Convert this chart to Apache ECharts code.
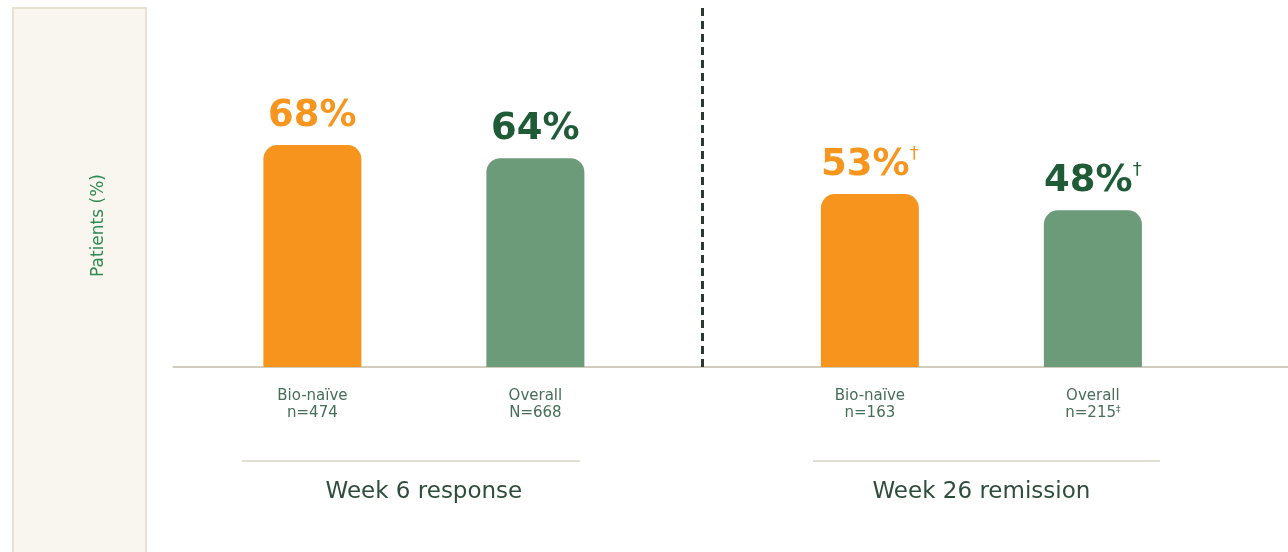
<!DOCTYPE html>
<html>
<head>
<meta charset="utf-8">
<script src="https://cdn.jsdelivr.net/npm/echarts@6/dist/echarts.min.js"></script>
<style>
  html, body { margin: 0; padding: 0; background: #fff; }
  #barchart { width: 1288px; height: 552px; }
</style>
</head>
<body>
<div id="barchart"></div>
<script>
let barpage = document.getElementById('barchart');
let rbaChart = echarts.init(barpage);

// data
const groups = ['Week 6 response', 'Week 26 remission'];
const subgroups = ['Bio-naïve', 'Overall'];
const sampleSizes = [['n=474', 'N=668'], ['n=163', 'n=215{s|‡}']];
const bioNaive = [68, 53];
const overall = [64, 48];
const footnotes = [['', ''], ['†', '†']];

// slot layout of the category axis
const slotCount = 20;
const groupStart = [2, 12];
const subStep = 4;
const dividerSlot = 9;

const font = 'DejaVu Sans';
const orange = '#f7941d';
const sage = '#6b9b78';
const darkGreen = '#1f5b37';

let slots = [];
let groupSlots = [];
for (let i = 0; i < slotCount; i++) { slots.push(''); groupSlots.push(''); }
let bioData = slots.map(() => '-');
let allData = slots.map(() => '-');
groups.forEach((g, gi) => {
    let s0 = groupStart[gi];
    let s1 = s0 + subStep;
    slots[s0] = subgroups[0] + '\n' + sampleSizes[gi][0];
    slots[s1] = subgroups[1] + '\n' + sampleSizes[gi][1];
    groupSlots[s0 + subStep / 2] = g;
    bioData[s0] = { value: bioNaive[gi], note: footnotes[gi][0] };
    allData[s1] = { value: overall[gi], note: footnotes[gi][1] };
});

function valueLabel(p) {
    let note = p.data.note ? '{d|' + p.data.note + '}' : '';
    return '{v|' + p.value + '%}' + note;
}

function labelRich(color) {
    return {
        v: { fontFamily: font, fontSize: 37, fontWeight: 'bold', color: color, lineHeight: 40 },
        d: { fontFamily: font, fontSize: 18, color: color, verticalAlign: 'top', lineHeight: 18 }
    };
}

let opov = {
    backgroundColor: '#ffffff',
    animation: false,
    grid: { left: 173, right: 0, top: 8, bottom: 185 },
    graphic: [
        {
            type: 'rect', z: -10,
            shape: { x: 13, y: 8, width: 133, height: 550 },
            style: { fill: '#f9f6ef', stroke: '#e7e1d0', lineWidth: 2 }
        },
        {
            type: 'line', z: 1,
            shape: { x1: 242, y1: 461, x2: 580, y2: 461 },
            style: { stroke: '#d9d6c9', lineWidth: 1.5 }
        },
        {
            type: 'line', z: 1,
            shape: { x1: 813, y1: 461, x2: 1160, y2: 461 },
            style: { stroke: '#d9d6c9', lineWidth: 1.5 }
        }
    ],
    xAxis: [
        {
            type: 'category',
            data: slots,
            axisLine: { show: true, lineStyle: { color: '#c2bda9', width: 1.5 } },
            axisTick: { show: false },
            axisLabel: {
                interval: 0,
                margin: 21,
                fontFamily: font,
                fontSize: 15,
                lineHeight: 17,
                color: '#466e58',
                rich: { s: { fontFamily: font, fontSize: 9, color: '#466e58', verticalAlign: 'top', lineHeight: 10 } }
            }
        },
        {
            type: 'category',
            data: groupSlots,
            position: 'bottom',
            offset: 110,
            axisLine: { show: false },
            axisTick: { show: false },
            axisLabel: {
                interval: 0,
                margin: 4,
                fontFamily: font,
                fontSize: 23,
                color: '#2e4d3b'
            }
        }
    ],
    yAxis: {
        type: 'value',
        min: 0,
        max: 110,
        name: 'Patients (%)',
        nameLocation: 'middle',
        nameRotate: 90,
        nameGap: 66,
        nameTextStyle: {
            fontFamily: font,
            fontSize: 17,
            color: '#2f8a55',
            padding: [0, 76, 0, 0]
        },
        axisLine: { show: false },
        axisTick: { show: false },
        axisLabel: { show: false },
        splitLine: { show: false }
    },
    series: [
        {
            name: subgroups[0],
            type: 'bar',
            data: bioData,
            barWidth: 98,
            barGap: '-100%',
            itemStyle: { color: orange, borderRadius: [14, 14, 0, 0] },
            label: {
                show: true,
                position: 'top',
                distance: 9,
                formatter: valueLabel,
                rich: labelRich('#f6961f')
            },
            markLine: {
                silent: true,
                symbol: 'none',
                label: { show: false },
                lineStyle: { color: '#2b3a31', type: [8, 5], width: 3 },
                data: [{ xAxis: dividerSlot }]
            }
        },
        {
            name: subgroups[1],
            type: 'bar',
            data: allData,
            barWidth: 98,
            itemStyle: { color: sage, borderRadius: [14, 14, 0, 0] },
            label: {
                show: true,
                position: 'top',
                distance: 9,
                formatter: valueLabel,
                rich: labelRich(darkGreen)
            }
        }
    ]
};

opov && rbaChart.setOption(opov);
</script>
</body>
</html>
